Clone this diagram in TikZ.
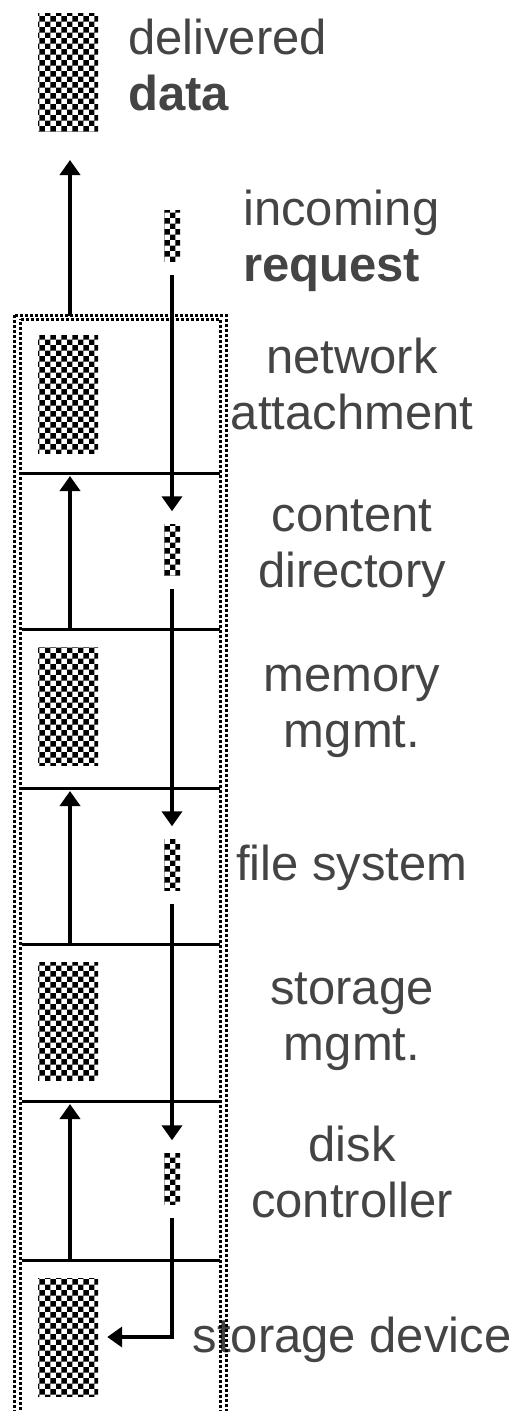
\documentclass[tikz,border=0pt]{standalone}
\usepackage{fontspec}
\setmainfont{Liberation Sans}
\usetikzlibrary{arrows.meta, patterns, positioning}

\definecolor{labelgray}{HTML}{444444}

\tikzset{
  bigbox/.style={pattern=checkerboard, pattern color=black, minimum width=60pt, minimum height=118pt, inner sep=0pt},
  smallbox/.style={pattern=checkerboard, pattern color=black, minimum width=16pt, minimum height=51pt, inner sep=0pt},
  layer/.style={line width=3pt},
  frame/.style={line width=3pt, dash pattern=on 3pt off 2pt},
  uparr/.style={line width=4pt, -{Triangle[width=20pt,length=15pt]}},
  downarr/.style={line width=4pt, -{Triangle[width=20pt,length=15pt]}, shorten <=13pt, shorten >=13pt},
  lbl/.style={text=labelgray, font=\fontsize{49}{56}\selectfont, inner sep=0pt}
}

\begin{document}
\begin{tikzpicture}[x=1pt, y=-1pt]
            \clip (0,0) rectangle (518,1411);

            % Data blocks
            \node[bigbox] (data) at (68,72) {};
            \node[bigbox] (net) at (68,394) {};
            \node[bigbox] (mem) at (68,706) {};
            \node[bigbox] (stm) at (68,1021) {};
            \node[bigbox] (dev) at (68,1337) {};

            % Request blocks
            \node[smallbox] (req) at (172,236) {};
            \node[smallbox] (cdir) at (172,550) {};
            \node[smallbox] (fsys) at (172,865) {};
            \node[smallbox] (dctl) at (172,1179) {};

            % Layer boundaries
            \draw[layer] (22,473) -- (220,473);
            \draw[layer] (22,629) -- (220,629);
            \draw[layer] (22,788) -- (220,788);
            \draw[layer] (22,944) -- (220,944);
            \draw[layer] (22,1101) -- (220,1101);
            \draw[layer] (22,1260) -- (220,1260);

            % Labels (base = last line)
            \node[lbl, anchor=base west, align=left] (deliv) at (128,110) {delivered\\\textbf{data}};
            \node[lbl, anchor=base west, align=left] (incom) at (243,281) {incoming\\\textbf{request}};
            \node[lbl, anchor=base, align=center] (netl) at (352,429) {network\\attachment};
            \node[lbl, anchor=base, align=center] (cdirl) at (352,587) {content\\directory};
            \node[lbl, anchor=base, align=center] (meml) at (352,747) {memory\\mgmt.};
            \node[lbl, anchor=base] (fsysl) at (352,880) {file system};
            \node[lbl, anchor=base, align=center] (stml) at (352,1060) {storage\\mgmt.};
            \node[lbl, anchor=base, align=center] (dctll) at (352,1217) {disk\\controller};
            \node[lbl, anchor=base] (devl) at (352,1352) {storage device};

            % Outer frame
            \draw[frame] (14,315) rectangle (226,1430);
            \draw[frame, dash phase=2pt] (20,319) rectangle (220,1430);

            % Data path upwards
            \coordinate (top) at (70,316);
            \coordinate (out) at (70,160);
            \coordinate (d1) at (70,476);
            \coordinate (d2) at (70,629);
            \coordinate (d3) at (70,791);
            \coordinate (d4) at (70,944);
            \coordinate (d5) at (70,1104);
            \coordinate (d6) at (70,1260);
            \draw[uparr] (top) -- (out);
            \draw[uparr] (d2) -- (d1);
            \draw[uparr] (d4) -- (d3);
            \draw[uparr] (d6) -- (d5);

            % Request path downwards
            \draw[downarr] (req) -- (cdir);
            \draw[downarr] (cdir) -- (fsys);
            \draw[downarr] (fsys) -- (dctl);
            \draw[downarr, shorten >=9pt] (dctl) |- (dev);
        \end{tikzpicture}
\end{document}
